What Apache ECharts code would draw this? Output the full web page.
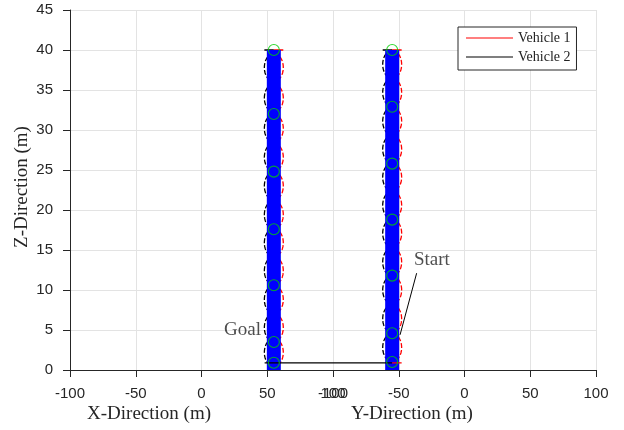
<!DOCTYPE html>
<html><head><meta charset="utf-8">
<script src="https://cdn.jsdelivr.net/npm/echarts@6/dist/echarts.min.js"></script>
<style>html,body{margin:0;padding:0;background:#fff}#c{width:624px;height:430px}</style>
</head><body><div id="c"></div>
<script>
// ---- data ----
const xTickMin = -100, xTickMax = 100, xTickStep = 50;
const zTickMin = 0, zTickMax = 45, zTickStep = 5;
const xTitle = 'X-Direction (m)';
const yTitle = 'Y-Direction (m)';
const zTitle = 'Z-Direction (m)';
const legendNames = ['Vehicle 1', 'Vehicle 2'];

const vehicle1X = 55;      // column on the X panel
const vehicle2Y = -55;     // column on the Y panel
const pathBottom = 0;
const pathTop = 40;
const ellipseHalfWidth = 7.2;
const ellipseHalfHeight = 1.75;

const xPanelEllipseZ = [2.2, 5.3, 8.8, 12.4, 15.9, 19.4, 23.0, 26.6, 30.2, 34.0, 37.8];
const yPanelEllipseZ = [2.8, 6.4, 10.0, 13.5, 17.1, 20.6, 24.1, 27.6, 31.1, 34.7, 38.2];
const xPanelMarkerZ = [0.9, 3.5, 10.6, 17.6, 24.8, 32.0, 40.0];
const yPanelMarkerZ = [1.0, 4.6, 11.8, 18.8, 25.8, 32.9, 40.0];

const linkZ = 0.9;
const linkXStart = 48;
const goalLabel = { text: 'Goal', x: 45.2, z: 5.0 };
const startLabel = { text: 'Start', x: -38.4, z: 13.75 };
const startPointer = [[-36.4, 12.1], [-49.0, 4.4]];

// ---- styles ----
const AX = '#262626', GRID = '#e3e3e3', RED = '#ff0000', BLK = '#000000', BLUE = '#0000ff', GREEN = '#00d000';
const sans = '"Liberation Sans", Arial, sans-serif';
const serif = '"Liberation Serif", "Times New Roman", serif';

function halfEllipse(side, color) {
  return function (params, api) {
    const c = api.coord([api.value(0), api.value(1)]);
    const rx = api.size([ellipseHalfWidth, 0])[0];
    const ry = api.size([0, ellipseHalfHeight])[1];
    const pts = [];
    const n = 24;
    for (let i = 0; i <= n; i++) {
      const a = -Math.PI / 2 + Math.PI * i / n;
      pts.push([c[0] + side * rx * Math.cos(a), c[1] + ry * Math.sin(a)]);
    }
    return {
      type: 'polyline',
      shape: { points: pts },
      style: { fill: 'none', stroke: color, lineWidth: 1.3, lineDash: [5, 2] }
    };
  };
}

function xAxisCfg(gi) {
  return {
    type: 'value', gridIndex: gi, min: xTickMin, max: xTickMax, interval: xTickStep,
    axisLine: { show: true, onZero: false, lineStyle: { color: AX, width: 1 } },
    axisTick: { show: true, inside: false, length: 7, lineStyle: { color: AX } },
    axisLabel: { show: true, margin: 16, fontSize: 15, fontFamily: sans, color: AX, showMinLabel: true, showMaxLabel: true },
    splitLine: { show: true, lineStyle: { color: GRID, width: 1 } }
  };
}
function yAxisCfg(gi, visible) {
  return {
    type: 'value', gridIndex: gi, min: zTickMin, max: zTickMax, interval: zTickStep,
    axisLine: { show: visible, onZero: false, lineStyle: { color: AX, width: 1 } },
    axisTick: { show: visible, inside: false, length: 7, lineStyle: { color: AX } },
    axisLabel: { show: visible, margin: 17, fontSize: 15, fontFamily: sans, color: AX },
    splitLine: { show: true, lineStyle: { color: GRID, width: 1 } }
  };
}
function seg(name, gi, pts, color, width, z) {
  return { name: name, type: 'line', xAxisIndex: gi, yAxisIndex: gi, data: pts, symbol: 'none',
    lineStyle: { color: color, width: width, cap: 'butt' }, z: z, silent: true, animation: false };
}

const series = [];
[[0, vehicle1X, xPanelEllipseZ, xPanelMarkerZ], [1, vehicle2Y, yPanelEllipseZ, yPanelMarkerZ]].forEach(function (p) {
  const gi = p[0], x = p[1];
  series.push({ name: legendNames[1], type: 'custom', xAxisIndex: gi, yAxisIndex: gi, renderItem: halfEllipse(-1, BLK),
    data: p[2].map(function (z) { return [x, z]; }), encode: { x: 0, y: 1 }, z: 2, silent: true, animation: false, itemStyle: { color: BLK } });
  series.push({ name: legendNames[0], type: 'custom', xAxisIndex: gi, yAxisIndex: gi, renderItem: halfEllipse(1, RED),
    data: p[2].map(function (z) { return [x, z]; }), encode: { x: 0, y: 1 }, z: 2, silent: true, animation: false, itemStyle: { color: RED } });
  series.push(seg('', gi, [[x - ellipseHalfWidth, pathTop], [x, pathTop]], BLK, 1.3, 3));
  series.push(seg('', gi, [[x, pathTop], [x + ellipseHalfWidth, pathTop]], RED, 1.3, 3));
  series.push(seg('', gi, [[x, pathBottom], [x, pathTop]], BLUE, 14, 4));
  series.push({ name: '', type: 'scatter', xAxisIndex: gi, yAxisIndex: gi, symbol: 'circle', symbolSize: 11,
    data: p[3].map(function (z) { return [x, z]; }),
    itemStyle: { color: 'rgba(0,0,0,0)', borderColor: GREEN, borderWidth: 1.1 }, z: 6, silent: true, animation: false });
});
// connector between the two columns
series.push(seg('', 0, [[linkXStart, linkZ], [xTickMax, linkZ]], BLK, 1.3, 5));
series.push(seg('', 1, [[xTickMin, linkZ], [vehicle2Y, linkZ]], BLK, 1.3, 5));
series.push(seg('', 1, [[vehicle2Y, linkZ], [vehicle2Y + ellipseHalfWidth, linkZ]], RED, 1.3, 5));
// annotation pointer
series.push(seg('', 1, startPointer, BLK, 1, 7));
// annotation labels
series.push({ name: '', type: 'scatter', xAxisIndex: 0, yAxisIndex: 0, symbolSize: 0, data: [[goalLabel.x, goalLabel.z]],
  label: { show: true, position: 'left', distance: 0, formatter: goalLabel.text, fontFamily: serif, fontSize: 19, color: '#222' }, z: 8, silent: true, animation: false });
series.push({ name: '', type: 'scatter', xAxisIndex: 1, yAxisIndex: 1, symbolSize: 0, data: [[startLabel.x, startLabel.z]],
  label: { show: true, position: 'right', distance: 0, formatter: startLabel.text, fontFamily: serif, fontSize: 19, color: '#222' }, z: 8, silent: true, animation: false });

const chart = echarts.init(document.getElementById('c'), null, { renderer: 'canvas' });
chart.setOption({
  animation: false,
  backgroundColor: '#ffffff',
  grid: [
    { left: 70, top: 10, width: 263, height: 360 },
    { left: 333, top: 10, width: 263, height: 360 }
  ],
  xAxis: [xAxisCfg(0), xAxisCfg(1)],
  yAxis: [yAxisCfg(0, true), yAxisCfg(1, false)],
  legend: {
    left: 458, top: 27, orient: 'vertical', itemWidth: 47, itemHeight: 1, itemGap: 3, itemTextGap: 6,
    padding: [3, 6, 5, 8], backgroundColor: '#fff', borderColor: AX, borderWidth: 1, borderRadius: 0,
    selectedMode: false,
    textStyle: { fontFamily: serif, fontSize: 14, lineHeight: 16, color: '#222' },
    data: [
      { name: legendNames[0], icon: 'rect', itemStyle: { color: RED } },
      { name: legendNames[1], icon: 'rect', itemStyle: { color: BLK } }
    ]
  },
  graphic: [
    { type: 'text', x: 149, y: 414, style: { text: xTitle, font: '19px ' + serif, fill: AX, align: 'center', verticalAlign: 'middle' } },
    { type: 'text', x: 412, y: 414, style: { text: yTitle, font: '19px ' + serif, fill: AX, align: 'center', verticalAlign: 'middle' } },
    { type: 'text', x: 22, y: 187, rotation: Math.PI / 2, style: { text: zTitle, font: '19px ' + serif, fill: AX, align: 'center', verticalAlign: 'middle' } }
  ],
  series: series
});
</script></body></html>
